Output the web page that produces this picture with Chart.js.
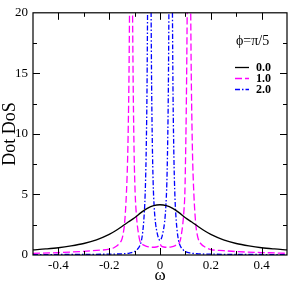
<!DOCTYPE html>
<html>
<head>
<meta charset="utf-8">
<script src="https://cdn.jsdelivr.net/npm/chart.js@4"></script>
<style>
html,body{margin:0;padding:0;background:#fff;}
#wrap{width:289px;height:282px;}
</style>
</head>
<body>
<div id="wrap"><canvas id="c" width="289" height="282"></canvas></div>
<script>
// ---- data ----
const seriesNames = ['0.0', '1.0', '2.0'];
const legendTitle = 'ϕ=π/5';
const xTickValues = [-0.4, -0.2, 0, 0.2, 0.4];
const xTickLabels = ['-0.4', '-0.2', '0', '0.2', '0.4'];
const yTickValues = [0, 5, 10, 15, 20];
const yTickLabels = ['0', '5', '10', '15', '20'];

const omega0 = [-0.5,-0.45,-0.4,-0.35,-0.3,-0.25,-0.2,-0.175,-0.15,-0.125,-0.1,-0.075,-0.05,-0.025,0,0.025,0.05,0.075,0.1,0.125,0.15,0.175,0.2,0.25,0.3,0.35,0.4,0.45,0.5];
const dos0   = [0.42,0.5,0.6,0.75,0.95,1.25,1.7,2.0,2.35,2.72,3.07,3.5,3.85,4.08,4.15,4.08,3.85,3.5,3.07,2.72,2.35,2.0,1.7,1.25,0.95,0.75,0.6,0.5,0.42];

const omega1 = [-0.5,-0.4,-0.3,-0.25,-0.2,-0.18,-0.16,-0.15,-0.145,-0.14,-0.136,-0.132,-0.128,-0.125,-0.122,-0.12,-0.118,
                -0.11,-0.108,-0.105,-0.102,-0.098,-0.094,-0.09,-0.085,-0.079,-0.07,-0.06,-0.045,-0.03,-0.015,-0.005,0,
                0.005,0.015,0.03,0.045,0.06,0.07,0.079,0.085,0.09,0.094,0.098,0.101,0.104,0.107,0.109,
                0.119,0.121,0.123,0.126,0.129,0.133,0.137,0.141,0.146,0.151,0.16,0.18,0.2,0.25,0.3,0.4,0.5];
const dos1   = [0.13,0.2,0.3,0.38,0.48,0.62,0.95,1.3,1.75,2.5,3.6,5.2,7.5,10.5,15,20,26,
                26,20,13,8.5,5.2,3.6,2.6,1.8,1.15,0.9,0.78,0.68,0.64,0.66,0.75,0.9,
                0.75,0.66,0.64,0.68,0.78,0.9,1.15,1.8,2.6,3.6,5.2,8.5,13,20,26,
                26,20,15,10.5,7.5,5.2,3.6,2.5,1.75,1.3,0.95,0.62,0.45,0.36,0.28,0.2,0.14];

const omega2 = [-0.5,-0.4,-0.3,-0.2,-0.15,-0.12,-0.1,-0.09,-0.08,-0.073,-0.068,-0.064,-0.06,-0.057,-0.054,-0.051,-0.049,-0.047,
                -0.037,-0.035,-0.033,-0.03,-0.027,-0.023,-0.018,-0.012,-0.006,0,
                0.006,0.012,0.018,0.023,0.027,0.03,0.033,0.035,0.037,
                0.047,0.049,0.051,0.054,0.057,0.06,0.064,0.068,0.073,0.08,0.09,0.1,0.12,0.15,0.2,0.3,0.4,0.5];
const dos2   = [0.03,0.04,0.05,0.07,0.1,0.16,0.28,0.45,0.75,1.2,1.9,2.8,4.2,6,9,14,20,27,
                27,20,14,9,6,4,2.7,1.9,1.4,1.2,
                1.4,1.9,2.7,4,6,9,14,20,27,
                27,20,14,9,6,4.2,2.8,1.9,1.2,0.75,0.45,0.28,0.16,0.1,0.07,0.05,0.04,0.03];

const colors = ['#000000', '#ff00ff', '#0000ff'];
const dashes = [[], [7, 3], [5, 2, 1.5, 2]];

// ---- chart ----
const pts = (xs, ys) => xs.map((x, i) => ({x: x, y: ys[i]}));
const serif = 'Liberation Serif, Times New Roman, serif';

const framePlugin = {
  id: 'framePlugin',
  afterDraw(chart) {
    const ctx = chart.ctx, a = chart.chartArea;
    const xs = chart.scales.x, ys = chart.scales.y;
    ctx.save();
    ctx.strokeStyle = '#000';
    ctx.lineWidth = 1.2;
    ctx.strokeRect(a.left, a.top, a.right - a.left, a.bottom - a.top);
    ctx.lineWidth = 1;
    ctx.beginPath();
    for (let i = -5; i <= 5; i++) {
      if (i === -5 || i === 5) continue;
      const px = Math.round(xs.getPixelForValue(i / 10)) + 0.5;
      const len = (i % 2 === 0) ? 7 : 4;
      ctx.moveTo(px, a.bottom); ctx.lineTo(px, a.bottom - len);
      ctx.moveTo(px, a.top); ctx.lineTo(px, a.top + len);
    }
    for (let i = 1; i < 8; i++) {
      const py = Math.round(ys.getPixelForValue(i * 2.5)) + 0.5;
      const len = (i % 2 === 0) ? 7 : 4;
      ctx.moveTo(a.left, py); ctx.lineTo(a.left + len, py);
      ctx.moveTo(a.right, py); ctx.lineTo(a.right - len, py);
    }
    ctx.stroke();

    // legend
    ctx.fillStyle = '#000';
    ctx.textBaseline = 'middle';
    ctx.textAlign = 'left';
    ctx.font = '14px ' + serif;
    ctx.fillText(legendTitle, 236, 41);
    const rows = [67, 78, 89];
    ctx.font = 'bold 12px ' + serif;
    seriesNames.forEach((name, i) => {
      ctx.save();
      ctx.strokeStyle = colors[i];
      ctx.lineWidth = 1.3;
      ctx.setLineDash(dashes[i]);
      ctx.beginPath();
      ctx.moveTo(235, rows[i] + 0.5);
      ctx.lineTo(249, rows[i] + 0.5);
      ctx.stroke();
      ctx.restore();
      ctx.fillText(name, 256, rows[i] + 1);
    });
    ctx.restore();
  }
};

new Chart(document.getElementById('c'), {
  type: 'line',
  data: {
    datasets: [
      {label: seriesNames[0], data: pts(omega0, dos0)},
      {label: seriesNames[1], data: pts(omega1, dos1)},
      {label: seriesNames[2], data: pts(omega2, dos2)}
    ].map((d, i) => Object.assign(d, {
      borderColor: colors[i],
      borderWidth: 1.3,
      borderDash: dashes[i],
      pointRadius: 0,
      cubicInterpolationMode: 'monotone',
      fill: false
    }))
  },
  options: {
    responsive: false,
    animation: false,
    layout: {padding: {top: 5, right: 2, left: 0, bottom: 0}},
    plugins: {legend: {display: false}, tooltip: {enabled: false}},
    scales: {
      x: {
        type: 'linear', min: -0.5, max: 0.5,
        afterBuildTicks: s => { s.ticks = xTickValues.map(v => ({value: v})); },
        afterFit: s => { s.height = 27; },
        grid: {display: false, drawTicks: false},
        border: {display: false},
        ticks: {
          padding: 3, color: '#000', maxRotation: 0, autoSkip: false,
          font: {family: serif, size: 13},
          callback: (v) => { const k = xTickValues.findIndex(t => Math.abs(t - v) < 1e-9); return k >= 0 ? xTickLabels[k] : ''; }
        },
        title: {display: true, text: 'ω', color: '#000', padding: 0, font: {family: serif, size: 17, lineHeight: 0.75}}
      },
      y: {
        type: 'linear', min: 0, max: 20,
        afterBuildTicks: s => { s.ticks = yTickValues.map(v => ({value: v})); },
        afterFit: s => { s.width = 33; },
        grid: {display: false, drawTicks: false},
        border: {display: false},
        ticks: {
          padding: 5, color: '#000', autoSkip: false,
          font: {family: serif, size: 13},
          callback: (v) => { const k = yTickValues.findIndex(t => Math.abs(t - v) < 1e-9); return k >= 0 ? yTickLabels[k] : ''; }
        },
        title: {display: true, text: 'Dot DoS', color: '#000', padding: 0, font: {family: serif, size: 18, lineHeight: 1.1}}
      }
    }
  },
  plugins: [framePlugin]
});
</script>
</body>
</html>
